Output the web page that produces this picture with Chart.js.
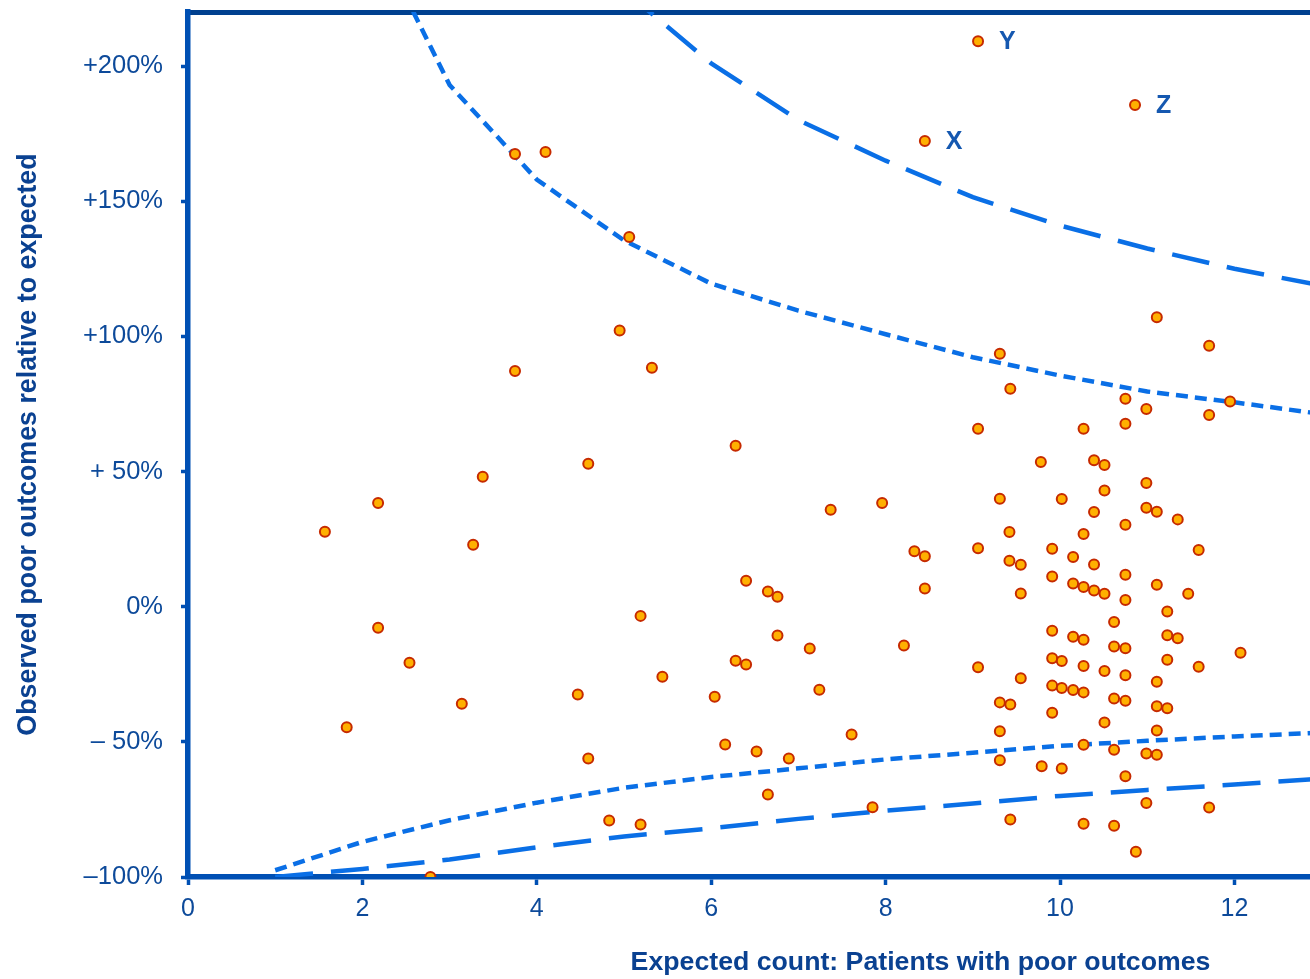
<!DOCTYPE html>
<html>
<head>
<meta charset="utf-8">
<script src="https://cdn.jsdelivr.net/npm/chart.js@4.4.1/dist/chart.umd.min.js"></script>
<style>
  html, body { margin: 0; padding: 0; background: #ffffff; overflow: hidden; }
  #wrap { width: 1660px; height: 979px; position: relative; }
</style>
</head>
<body>
<div id="wrap"><canvas id="c" width="1660" height="979"></canvas></div>
<script>
// ---------- data ----------
const obsX = [
  1.57, 2.18, 2.18, 1.82, 2.54, 2.78, 3.14, 3.27, 3.38, 3.75, 4.10, 3.75, 4.47, 4.59, 4.59, 4.83,
  4.95, 5.06, 5.19, 5.19, 5.32, 5.44, 6.04, 6.16, 6.28, 6.28, 6.40, 6.40, 6.52, 6.65, 6.65, 6.76,
  6.76, 6.89, 7.13, 7.24, 7.37, 7.61, 7.85, 7.96, 8.21, 8.33, 8.45, 8.45,
  11.11, 11.71, 9.31, 9.43, 10.75, 10.99, 11.95, 11.71, 9.06, 10.27, 10.75, 9.78, 10.39, 10.51,
  10.99, 10.51, 9.31, 10.02, 10.39, 10.99, 11.11, 11.35, 10.75, 9.42, 10.27, 11.59, 9.06, 9.91,
  10.15, 10.39, 9.42, 9.55, 10.75, 9.91, 10.15, 10.27, 10.39, 10.51, 11.11, 11.47, 9.55, 10.75,
  11.23, 10.62, 9.91, 10.15, 10.27, 11.23, 11.35, 10.62, 10.75, 12.07, 9.06, 9.55, 9.91, 10.02,
  10.27, 10.51, 10.75, 11.23, 11.59, 11.11, 9.91, 10.02, 10.15, 10.27, 10.62, 10.75, 9.31, 9.43,
  11.11, 11.23, 9.91, 10.51, 9.31, 11.11, 10.27, 10.62, 10.99, 11.11, 9.31, 9.79, 10.02, 10.75,
  10.99, 11.71, 9.43, 10.27, 10.62, 10.87
];
const obsY = [
  27.7, 38.4, -7.8, -44.6, -20.7, -100, -35.9, 22.9, 48.1, 167.5, 168.2, 87.2, -32.5, 52.9, -56.2, -79.1,
  102.2, 136.8, -3.4, -80.6, 88.4, -25.9, -33.3, -51.0, 59.5, -20.0, -21.4, 9.6, -53.6, 5.6, -69.5, 3.7,
  -10.7, -56.2, -15.5, -30.7, 35.9, -47.3, -74.2, 38.4, -14.4, 20.5, 18.7, 6.7,
  107.1, 96.5, 93.6, 80.6, 76.9, 73.1, 75.9, 70.9, 65.8, 65.8, 67.7, 53.5, 54.2, 52.4,
  45.8, 43.0, 39.9, 39.8, 35.0, 36.6, 35.1, 32.3, 30.3, 27.6, 26.9, 21.0, 21.6, 21.4,
  18.4, 15.6, 17.0, 15.5, 11.8, 11.2, 8.6, 7.3, 6.0, 4.8, 8.1, 4.8, 4.9, 2.5,
  -1.8, -5.7, -8.9, -11.1, -12.2, -10.6, -11.7, -14.7, -15.4, -17.0, -22.4, -26.5, -19.1, -20.1,
  -21.9, -23.8, -25.4, -19.6, -22.2, -27.8, -29.2, -30.1, -30.8, -31.7, -34.0, -34.8, -35.4, -36.2,
  -36.8, -37.6, -39.2, -42.8, -46.1, -45.8, -51.1, -52.9, -54.3, -54.8, -56.8, -59.0, -59.9, -62.7,
  -72.6, -74.3, -78.7, -80.3, -81.0, -90.7
];
// flagged providers
const flagNames = ['X', 'Y', 'Z'];
const flagX = [8.45, 9.06, 10.86];
const flagY = [172.3, 209.2, 185.6];

// control limits (at integer expected counts)
const limitX       = [1, 2, 3, 4, 5, 6, 7, 8, 9, 10, 11, 12, 13];
const upperInner   = [null, 258, 193, 158, 135.5, 119.5, 109.5, 100.8, 92.3, 85.5, 79.6, 75.6, 71.3];
const lowerInner   = [-97.5, -87, -79, -72.5, -67, -63, -59.8, -56.5, -54, -51.5, -49.6, -48, -46.6];
const upperOuterX  = [5, 6, 7, 8, 9, 10, 11, 12, 13];
const upperOuter   = [228, 201, 180, 165, 151.5, 141, 132.5, 125, 118.8];
const lowerOuter   = [-100, -97, -93.5, -89, -85, -82, -78.5, -75.5, -72.8, -70, -67.8, -65.8, -63.6];

const xTicks = [0, 2, 4, 6, 8, 10, 12];
const yTicks = [-100, -50, 0, 50, 100, 150, 200];
const yTickLabels = ['\u2013100%', '\u2013 50%', '0%', '+ 50%', '+100%', '+150%', '+200%'];

// ---------- build ----------
const toPts = (xs, ys) => xs.map((x, i) => ({ x: x, y: ys[i] })).filter(p => p.y !== null);

const FONT = "'Liberation Sans', Arial, Helvetica, sans-serif";
const LINE_BLUE = '#0a6fe6';
const AXIS_BLUE = '#0050b4';
const TEXT_BLUE = '#0d4a9a';

const pointStyle = {
  pointRadius: 5,
  pointHoverRadius: 5,
  pointBackgroundColor: '#ffb000',
  pointBorderColor: '#c62a00',
  pointBorderWidth: 2,
  showLine: false
};

const flagLabelPlugin = {
  id: 'flagLabels',
  afterDatasetsDraw(chart) {
    const meta = chart.getDatasetMeta(1);
    const ctx = chart.ctx;
    ctx.save();
    ctx.font = "bold 25px " + FONT;
    ctx.fillStyle = '#1558b0';
    ctx.textAlign = 'left';
    ctx.textBaseline = 'middle';
    meta.data.forEach((el, i) => {
      ctx.fillText(flagNames[i], el.x + 21, el.y + 1);
    });
    ctx.restore();
  }
};

new Chart(document.getElementById('c'), {
  type: 'scatter',
  data: {
    datasets: [
      Object.assign({ label: 'Providers', data: toPts(obsX, obsY), order: 0 }, pointStyle),
      Object.assign({ label: 'Flagged', data: toPts(flagX, flagY), order: 0 }, pointStyle),
      { type: 'line', label: 'Upper 95%', data: toPts(limitX, upperInner), borderColor: LINE_BLUE,
        borderWidth: 4.5, borderDash: [12, 7], pointRadius: 0, tension: 0, fill: false, order: 1 },
      { type: 'line', label: 'Lower 95%', data: toPts(limitX, lowerInner), borderColor: LINE_BLUE,
        borderWidth: 4.5, borderDash: [12, 7], pointRadius: 0, tension: 0, fill: false, order: 1 },
      { type: 'line', label: 'Upper 99.8%', data: toPts(upperOuterX, upperOuter), borderColor: LINE_BLUE,
        borderWidth: 4.5, borderDash: [38, 18], pointRadius: 0, tension: 0, fill: false, order: 1 },
      { type: 'line', label: 'Lower 99.8%', data: toPts(limitX, lowerOuter), borderColor: LINE_BLUE,
        borderWidth: 4.5, borderDash: [38, 18], pointRadius: 0, tension: 0, fill: false, order: 1 }
    ]
  },
  options: {
    responsive: false,
    animation: false,
    devicePixelRatio: 1,
    layout: { padding: { left: 0, right: 2, top: 0, bottom: 0 } },
    plugins: { legend: { display: false }, tooltip: { enabled: false } },
    scales: {
      x: {
        type: 'linear', position: 'bottom', min: 0, max: 16.8,
        afterBuildTicks: s => { s.ticks = xTicks.map(v => ({ value: v })); },
        afterFit: s => { s.height = 102; s.paddingLeft = 0; s.paddingRight = 0; },
        grid: { display: true, drawOnChartArea: false, drawTicks: true, tickLength: 8,
                tickWidth: 3.5, tickColor: AXIS_BLUE },
        border: { display: true, color: AXIS_BLUE, width: 5.5 },
        ticks: { color: TEXT_BLUE, font: { family: FONT, size: 25 }, padding: 9, maxRotation: 0 },
        title: { display: true, text: 'Expected count: Patients with poor outcomes',
                 color: '#0a4191', font: { family: FONT, size: 26.7, weight: 'bold', lineHeight: 1.2 },
                 padding: { top: 0, bottom: 0 } }
      },
      x2: {
        type: 'linear', position: 'top', min: 0, max: 1,
        afterFit: s => { s.height = 12; s.paddingLeft = 0; s.paddingRight = 0; },
        grid: { display: false },
        ticks: { display: false },
        border: { display: true, color: '#00408f', width: 5 }
      },
      y: {
        type: 'linear', position: 'left', min: -100, max: 220,
        afterBuildTicks: s => { s.ticks = yTicks.map(v => ({ value: v })); },
        afterFit: s => { s.width = 188; s.paddingTop = 0; s.paddingBottom = 0; },
        grid: { display: true, drawOnChartArea: false, drawTicks: true, tickLength: 7,
                tickWidth: 3.5, tickColor: AXIS_BLUE },
        border: { display: true, color: AXIS_BLUE, width: 5.5 },
        ticks: { color: TEXT_BLUE, font: { family: FONT, size: 25.5 }, padding: 18,
                 callback: v => yTickLabels[yTicks.indexOf(v)] },
        title: { display: true, text: 'Observed poor outcomes relative to expected',
                 color: '#0a4191', font: { family: FONT, size: 26.8, weight: 'bold', lineHeight: 1.2 },
                 padding: { top: 13, bottom: 0 } }
      }
    }
  },
  plugins: [flagLabelPlugin]
});
</script>
</body>
</html>
